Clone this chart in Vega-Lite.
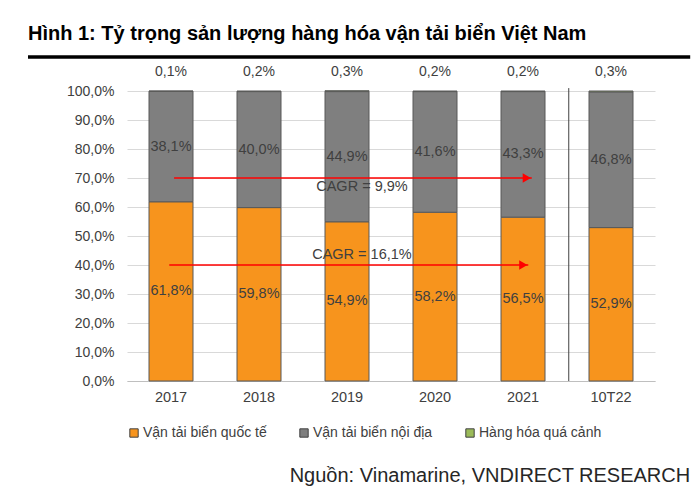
{
  "$schema": "https://vega.github.io/schema/vega-lite/v6.json",
  "width": 528,
  "height": 290,
  "autosize": {"type": "none"},
  "padding": {"left": 127, "top": 91, "right": 45, "bottom": 110},
  "background": "white",
  "config": {
    "font": "Liberation Sans",
    "view": {"stroke": null},
    "axisY": {"tickCount": 10, "labelOverlap": false, "labelFontSize": 14, "labelColor": "#404040", "ticks": false, "domain": false, "gridColor": "#d9d9d9", "labelPadding": 13},
    "locale": {"number": {"decimal": ",", "thousands": ".", "grouping": [3], "currency": ["", " ₫"]}}
  },
  "title": {
    "text": "Hình 1: Tỷ trọng sản lượng hàng hóa vận tải biển Việt Nam",
    "anchor": "start",
    "frame": "group",
    "dx": -99,
    "offset": 11,
    "fontSize": 20,
    "fontWeight": "bold",
    "color": "#000000"
  },
  "datasets": {
    "bars": [
      {"year": "2017", "type": "Vận tải biển quốc tế", "value": 0.618},
      {"year": "2017", "type": "Vận tải biển nội địa", "value": 0.381},
      {"year": "2017", "type": "Hàng hóa quá cảnh", "value": 0.001},
      {"year": "2018", "type": "Vận tải biển quốc tế", "value": 0.598},
      {"year": "2018", "type": "Vận tải biển nội địa", "value": 0.400},
      {"year": "2018", "type": "Hàng hóa quá cảnh", "value": 0.002},
      {"year": "2019", "type": "Vận tải biển quốc tế", "value": 0.549},
      {"year": "2019", "type": "Vận tải biển nội địa", "value": 0.449},
      {"year": "2019", "type": "Hàng hóa quá cảnh", "value": 0.003},
      {"year": "2020", "type": "Vận tải biển quốc tế", "value": 0.582},
      {"year": "2020", "type": "Vận tải biển nội địa", "value": 0.416},
      {"year": "2020", "type": "Hàng hóa quá cảnh", "value": 0.002},
      {"year": "2021", "type": "Vận tải biển quốc tế", "value": 0.565},
      {"year": "2021", "type": "Vận tải biển nội địa", "value": 0.433},
      {"year": "2021", "type": "Hàng hóa quá cảnh", "value": 0.002},
      {"year": "10T22", "type": "Vận tải biển quốc tế", "value": 0.529},
      {"year": "10T22", "type": "Vận tải biển nội địa", "value": 0.468},
      {"year": "10T22", "type": "Hàng hóa quá cảnh", "value": 0.003}
    ],
    "cagr": [
      {"label": "CAGR = 9,9%", "level": 0.70, "start": 0.535, "end": 4.6, "tx": 2.67, "ty": 0.668},
      {"label": "CAGR = 16,1%", "level": 0.40, "start": 0.48, "end": 4.56, "tx": 2.67, "ty": 0.434}
    ]
  },
  "layer": [
    {
      "data": {"name": "bars"},
      "layer": [
        {
          "mark": {"type": "bar", "stroke": "#595959", "strokeWidth": 1},
          "encoding": {
            "x": {
              "field": "year", "type": "ordinal", "sort": null,
              "scale": {"type": "band", "paddingInner": 0.5, "paddingOuter": 0.25},
              "axis": {"title": null, "labelAngle": 0, "labelFontSize": 14.5, "labelColor": "#404040", "ticks": false, "domainColor": "#bfbfbf", "labelPadding": 9}
            },
            "y": {
              "field": "value", "type": "quantitative", "stack": "zero",
              "scale": {"domain": [0, 1], "nice": false},
              "axis": {"title": null, "tickCount": 10, "format": ".1%"}
            },
            "color": {
              "field": "type", "type": "nominal",
              "sort": ["Vận tải biển quốc tế", "Vận tải biển nội địa", "Hàng hóa quá cảnh"],
              "scale": {"domain": ["Vận tải biển quốc tế", "Vận tải biển nội địa", "Hàng hóa quá cảnh"], "range": ["#F7941D", "#7F7F7F", "#9BBB59"]},
              "legend": {"title": null, "orient": "none", "legendX": 0, "legendY": 335, "direction": "horizontal", "labelFontSize": 14, "labelColor": "#404040", "symbolType": "square", "symbolSize": 70, "symbolStrokeColor": "#404040", "symbolStrokeWidth": 1, "columnPadding": 30, "labelOffset": 2}
            }
          }
        },
        {
          "transform": [{"filter": "datum.type != 'Hàng hóa quá cảnh'"}],
          "mark": {"type": "text", "fontSize": 14.5},
          "encoding": {
            "x": {"field": "year", "type": "ordinal", "sort": null},
            "y": {"field": "value", "type": "quantitative", "stack": "zero", "bandPosition": 0.5},
            "color": {"field": "type", "type": "nominal", "sort": ["Vận tải biển quốc tế", "Vận tải biển nội địa", "Hàng hóa quá cảnh"]},
            "fill": {"value": "#404040"},
            "text": {"field": "value", "type": "quantitative", "format": ".1%"}
          }
        },
        {
          "transform": [{"filter": "datum.type == 'Hàng hóa quá cảnh'"}],
          "mark": {"type": "text", "fontSize": 14, "color": "#404040", "dy": -19},
          "encoding": {
            "x": {"field": "year", "type": "ordinal", "sort": null},
            "y": {"datum": 1, "type": "quantitative"},
            "text": {"field": "value", "type": "quantitative", "format": ".1%"}
          }
        }
      ]
    },
    {
      "data": {"name": "cagr"},
      "mark": {"type": "rule", "color": "#FF0000", "strokeWidth": 1.3},
      "encoding": {
        "x": {"field": "start", "type": "quantitative", "scale": {"domain": [0, 6], "nice": false, "zero": false}, "axis": null},
        "x2": {"field": "end"},
        "y": {"field": "level", "type": "quantitative"}
      }
    },
    {
      "data": {"name": "cagr"},
      "mark": {"type": "point", "shape": "triangle-right", "filled": true, "color": "#FF0000", "size": 90, "opacity": 1},
      "encoding": {
        "x": {"field": "end", "type": "quantitative", "scale": {"domain": [0, 6], "nice": false, "zero": false}, "axis": null},
        "xOffset": {"value": -5},
        "y": {"field": "level", "type": "quantitative"}
      }
    },
    {
      "data": {"name": "cagr"},
      "mark": {"type": "text", "fontSize": 14.5, "color": "#404040"},
      "encoding": {
        "x": {"field": "tx", "type": "quantitative", "scale": {"domain": [0, 6], "nice": false, "zero": false}, "axis": null},
        "y": {"field": "ty", "type": "quantitative"},
        "text": {"field": "label", "type": "nominal"}
      }
    },
    {
      "data": {"values": [{"mark": "separator"}]},
      "mark": {"type": "rule", "color": "#404040", "strokeWidth": 1},
      "encoding": {
        "x": {"datum": 5.02, "type": "quantitative", "scale": {"domain": [0, 6], "nice": false, "zero": false}, "axis": null},
        "y": {"datum": 1.01, "type": "quantitative"},
        "y2": {"datum": 0}
      }
    },
    {
      "data": {"values": [{"mark": "title rule"}]},
      "mark": {"type": "rule", "color": "#000000", "strokeWidth": 3.5},
      "encoding": {
        "x": {"datum": -1.125, "type": "quantitative", "scale": {"domain": [0, 6], "nice": false, "zero": false}, "axis": null},
        "x2": {"datum": 6.4},
        "y": {"datum": 1.117, "type": "quantitative"}
      }
    },
    {
      "data": {"values": [{"source": "Nguồn: Vinamarine, VNDIRECT RESEARCH"}]},
      "mark": {"type": "text", "fontSize": 20, "color": "#262626", "align": "right", "baseline": "middle"},
      "encoding": {
        "x": {"datum": 6.4, "type": "quantitative", "scale": {"domain": [0, 6], "nice": false, "zero": false}, "axis": null},
        "y": {"datum": -0.328, "type": "quantitative"},
        "text": {"field": "source", "type": "nominal"}
      }
    }
  ],
  "resolve": {"scale": {"x": "independent"}}
}
